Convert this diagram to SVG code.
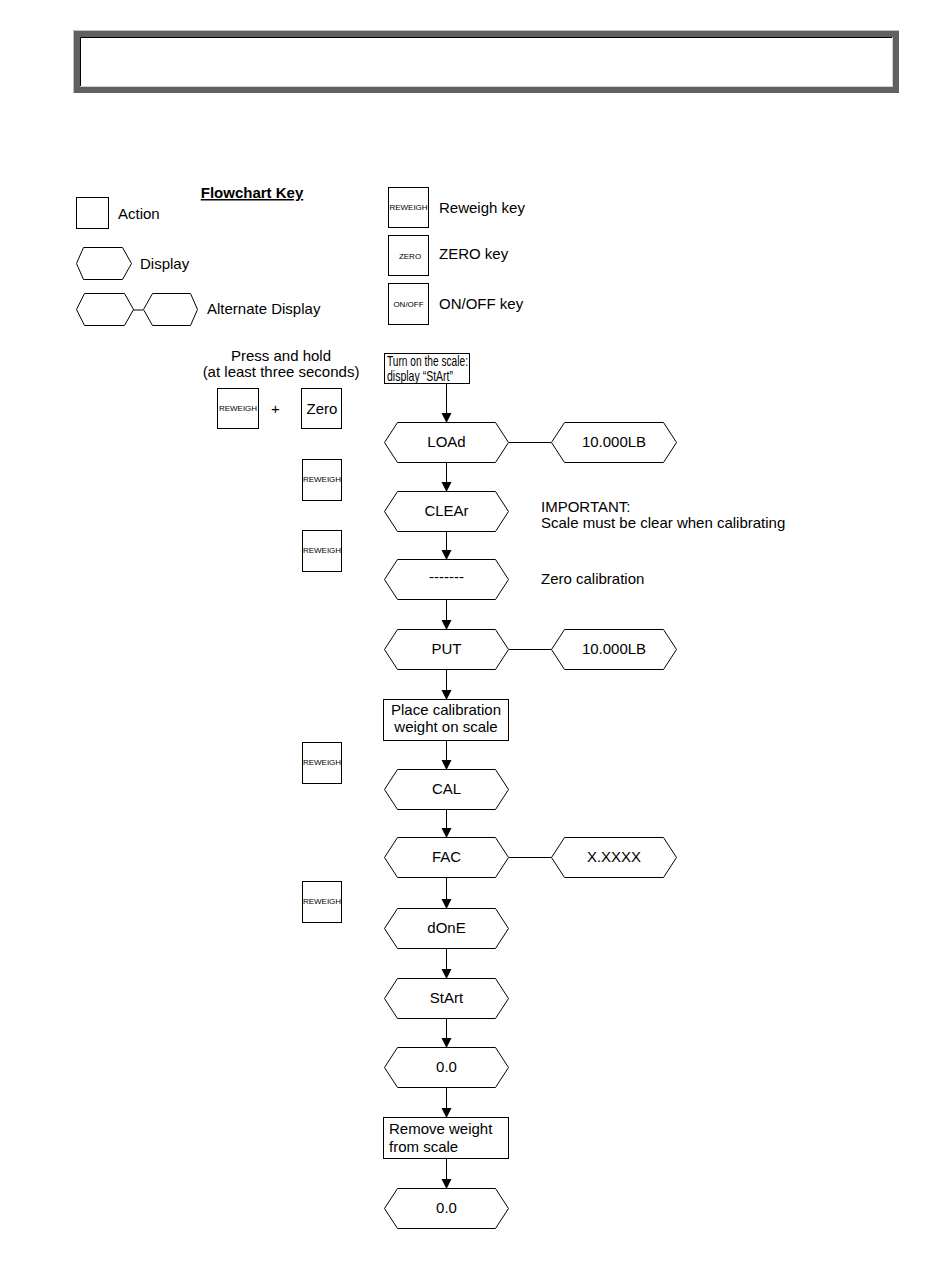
<svg xmlns="http://www.w3.org/2000/svg" width="950" height="1276" viewBox="0 0 950 1276">
<style>
.s{fill:#fff;stroke:#000;stroke-width:1}
.l{stroke:#000;stroke-width:1;fill:none}
.t{font-family:"Liberation Sans",Arial,sans-serif;font-size:15px;fill:#000}
.c{text-anchor:middle}
.k{font-family:"Liberation Sans",Arial,sans-serif;font-size:8px;fill:#000;text-anchor:middle}
</style>
<defs>
<marker id="a" markerWidth="10" markerHeight="12" refX="9" refY="5" orient="auto" markerUnits="userSpaceOnUse">
<path d="M0,0 L10,5 L0,10 Z" fill="#000"/>
</marker>
</defs>
<rect width="950" height="1276" fill="#fff"/>
<g id="header">
<rect x="73" y="30" width="826" height="63" fill="#606060"/>
<line x1="73" y1="30.5" x2="899" y2="30.5" stroke="#bdbdbd"/>
<line x1="73.5" y1="30" x2="73.5" y2="93" stroke="#bdbdbd"/>
<rect x="80" y="37" width="813" height="50" fill="#fff"/>
<line x1="80" y1="37.5" x2="893" y2="37.5" stroke="#000"/>
<line x1="80.5" y1="37" x2="80.5" y2="87" stroke="#000"/>
<line x1="80" y1="86.5" x2="893" y2="86.5" stroke="#d0d0d0"/>
<line x1="892.5" y1="37" x2="892.5" y2="87" stroke="#d0d0d0"/>
</g>
<g id="legend">
<text class="t c" x="252" y="198" font-weight="bold" text-decoration="underline">Flowchart Key</text>
<rect class="s" x="76.5" y="197.5" width="32" height="31"/>
<text class="t" x="118" y="219">Action</text>
<path class="s" d="M76.5,263.5 L83.5,247.5 L122.5,247.5 L131.5,263.5 L122.5,279.5 L83.5,279.5 Z"/>
<text class="t" x="140" y="269">Display</text>
<line class="l" x1="133" y1="310" x2="143" y2="310"/>
<path class="s" d="M76.5,309.5 L84.5,293.5 L124.5,293.5 L133.5,309.5 L124.5,325.5 L84.5,325.5 Z"/>
<path class="s" d="M143.5,309.5 L152.5,293.5 L190.5,293.5 L197.5,309.5 L190.5,325.5 L152.5,325.5 Z"/>
<text class="t" x="207" y="314">Alternate Display</text>
<rect class="s" x="388.5" y="187.5" width="40" height="40"/>
<text class="k" x="408.5" y="210">REWEIGH</text>
<text class="t" x="439" y="213">Reweigh key</text>
<rect class="s" x="388.5" y="235.5" width="40" height="40"/>
<text class="k" x="410" y="259" font-size="9.5">ZERO</text>
<text class="t" x="439" y="259">ZERO key</text>
<rect class="s" x="388.5" y="283.5" width="40" height="41"/>
<text class="k" x="408.5" y="307" font-size="9.5">ON/OFF</text>
<text class="t" x="439" y="309">ON/OFF key</text>
</g>
<g id="keys">
<text class="t c" x="281" y="361">Press and hold</text>
<text class="t c" x="281" y="377">(at least three seconds)</text>
<rect class="s" x="217.5" y="388.5" width="41" height="40"/>
<text class="k" x="238" y="411">REWEIGH</text>
<text class="t" x="271" y="414" font-size="19">+</text>
<rect class="s" x="301.5" y="388.5" width="40" height="40"/>
<text class="t c" x="322" y="414" font-size="16">Zero</text>
<g id="rw1"><rect class="s" x="302.5" y="459.5" width="39" height="41"/><text class="k" x="322" y="482">REWEIGH</text></g>
<g id="rw2"><rect class="s" x="302.5" y="530.5" width="39" height="41"/><text class="k" x="322" y="553">REWEIGH</text></g>
<g id="rw3"><rect class="s" x="302.5" y="742.5" width="39" height="41"/><text class="k" x="322" y="765">REWEIGH</text></g>
<g id="rw4"><rect class="s" x="302.5" y="881.5" width="39" height="41"/><text class="k" x="322" y="904">REWEIGH</text></g>
</g>
<g id="connectors">
<line class="l" x1="446.5" y1="383" x2="446.5" y2="422" marker-end="url(#a)"/>
<line class="l" x1="446.5" y1="462" x2="446.5" y2="491" marker-end="url(#a)"/>
<line class="l" x1="446.5" y1="531" x2="446.5" y2="559" marker-end="url(#a)"/>
<line class="l" x1="446.5" y1="599" x2="446.5" y2="629" marker-end="url(#a)"/>
<line class="l" x1="446.5" y1="669" x2="446.5" y2="699" marker-end="url(#a)"/>
<line class="l" x1="446.5" y1="740" x2="446.5" y2="769" marker-end="url(#a)"/>
<line class="l" x1="446.5" y1="809" x2="446.5" y2="837" marker-end="url(#a)"/>
<line class="l" x1="446.5" y1="877" x2="446.5" y2="908" marker-end="url(#a)"/>
<line class="l" x1="446.5" y1="948" x2="446.5" y2="978" marker-end="url(#a)"/>
<line class="l" x1="446.5" y1="1018" x2="446.5" y2="1047" marker-end="url(#a)"/>
<line class="l" x1="446.5" y1="1087" x2="446.5" y2="1117" marker-end="url(#a)"/>
<line class="l" x1="446.5" y1="1158" x2="446.5" y2="1188" marker-end="url(#a)"/>
<line class="l" x1="509" y1="442.5" x2="551" y2="442.5"/>
<line class="l" x1="509" y1="649.5" x2="551" y2="649.5"/>
<line class="l" x1="509" y1="857.5" x2="551" y2="857.5"/>
</g>
<g id="start"><rect class="s" x="384.5" y="353.5" width="85" height="30"/>
<text class="t" x="387" y="366" font-size="13" textLength="81" lengthAdjust="spacingAndGlyphs">Turn on the scale:</text><text class="t" x="387" y="381" font-size="13" textLength="66" lengthAdjust="spacingAndGlyphs">display “StArt”</text></g>
<g id="load"><path class="s" d="M384.5,442.5 L397.5,422.5 L495.5,422.5 L508.5,442.5 L495.5,462.5 L397.5,462.5 Z"/><text class="t c" x="446.5" y="447">LOAd</text></g>
<g id="load-alt"><path class="s" d="M551.5,442.5 L564.5,422.5 L663.5,422.5 L676.5,442.5 L663.5,462.5 L564.5,462.5 Z"/><text class="t c" x="614" y="447">10.000LB</text></g>
<g id="clear"><path class="s" d="M384.5,511.5 L397.5,491.5 L495.5,491.5 L508.5,511.5 L495.5,531.5 L397.5,531.5 Z"/><text class="t c" x="446.5" y="516">CLEAr</text></g>
<text class="t" x="541" y="512">IMPORTANT:</text>
<text class="t" x="541" y="528">Scale must be clear when calibrating</text>
<g id="dashes"><path class="s" d="M384.5,579.5 L397.5,559.5 L495.5,559.5 L508.5,579.5 L495.5,599.5 L397.5,599.5 Z"/><text class="t c" x="446.5" y="582">-------</text></g>
<text class="t" x="541" y="584">Zero calibration</text>
<g id="put"><path class="s" d="M384.5,649.5 L397.5,629.5 L495.5,629.5 L508.5,649.5 L495.5,669.5 L397.5,669.5 Z"/><text class="t c" x="446.5" y="654">PUT</text></g>
<g id="put-alt"><path class="s" d="M551.5,649.5 L564.5,629.5 L663.5,629.5 L676.5,649.5 L663.5,669.5 L564.5,669.5 Z"/><text class="t c" x="614" y="654">10.000LB</text></g>
<g id="place"><rect class="s" x="383.5" y="699.5" width="125" height="41"/>
<text class="t c" x="446" y="715">Place calibration</text><text class="t c" x="446" y="732">weight on scale</text></g>
<g id="cal"><path class="s" d="M384.5,789.5 L397.5,769.5 L495.5,769.5 L508.5,789.5 L495.5,809.5 L397.5,809.5 Z"/><text class="t c" x="446.5" y="794">CAL</text></g>
<g id="fac"><path class="s" d="M384.5,857.5 L397.5,837.5 L495.5,837.5 L508.5,857.5 L495.5,877.5 L397.5,877.5 Z"/><text class="t c" x="446.5" y="862">FAC</text></g>
<g id="fac-alt"><path class="s" d="M551.5,857.5 L564.5,837.5 L663.5,837.5 L676.5,857.5 L663.5,877.5 L564.5,877.5 Z"/><text class="t c" x="614" y="862">X.XXXX</text></g>
<g id="done"><path class="s" d="M384.5,928.5 L397.5,908.5 L495.5,908.5 L508.5,928.5 L495.5,948.5 L397.5,948.5 Z"/><text class="t c" x="446.5" y="933">dOnE</text></g>
<g id="startd"><path class="s" d="M384.5,998.5 L397.5,978.5 L495.5,978.5 L508.5,998.5 L495.5,1018.5 L397.5,1018.5 Z"/><text class="t c" x="446.5" y="1003">StArt</text></g>
<g id="zero1"><path class="s" d="M384.5,1067.5 L397.5,1047.5 L495.5,1047.5 L508.5,1067.5 L495.5,1087.5 L397.5,1087.5 Z"/><text class="t c" x="446.5" y="1072">0.0</text></g>
<g id="remove"><rect class="s" x="383.5" y="1117.5" width="125" height="41"/>
<text class="t" x="389" y="1134">Remove weight</text><text class="t" x="389" y="1152">from scale</text></g>
<g id="zero2"><path class="s" d="M384.5,1208.5 L397.5,1188.5 L495.5,1188.5 L508.5,1208.5 L495.5,1228.5 L397.5,1228.5 Z"/><text class="t c" x="446.5" y="1213">0.0</text></g>
</svg>
